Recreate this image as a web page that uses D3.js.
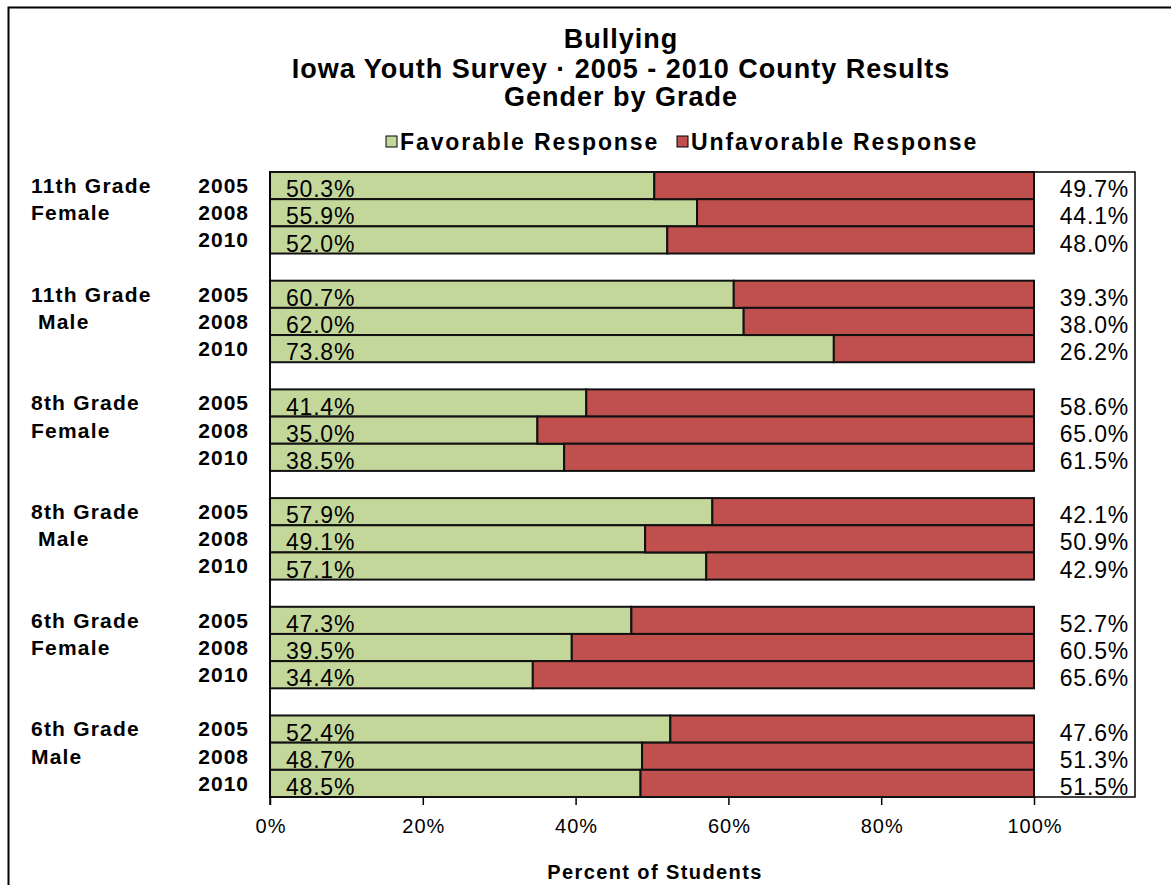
<!DOCTYPE html>
<html>
<head>
<meta charset="utf-8">
<script src="https://cdn.jsdelivr.net/npm/d3@7"></script>
<style>
  body { margin: 0; background: #fff; }
  svg text { font-family: Arial, "Liberation Sans", sans-serif; }
</style>
</head>
<body>
<div id="chart"></div>
<script>
// chart data
var titleLines = ['Bullying', 'Iowa Youth Survey \u00b7 2005 - 2010 County Results', 'Gender by Grade'];
var seriesNames = ['Favorable Response', 'Unfavorable Response'];
var groupLabels = [
    ['11th Grade', 'Female'],
    ['11th Grade', ' Male'],
    ['8th Grade', 'Female'],
    ['8th Grade', ' Male'],
    ['6th Grade', 'Female'],
    ['6th Grade', 'Male']
];
var years = ['2005', '2008', '2010'];
var favorable = [
    [50.3, 55.9, 52.0],
    [60.7, 62.0, 73.8],
    [41.4, 35.0, 38.5],
    [57.9, 49.1, 57.1],
    [47.3, 39.5, 34.4],
    [52.4, 48.7, 48.5]
];
var unfavorable = [
    [49.7, 44.1, 48.0],
    [39.3, 38.0, 26.2],
    [58.6, 65.0, 61.5],
    [42.1, 50.9, 42.9],
    [52.7, 60.5, 65.6],
    [47.6, 51.3, 51.5]
];
var xTicks = [0, 20, 40, 60, 80, 100];
var xTitle = 'Percent of Students';

function drawChart() {
    var width = 1171, height = 885;
    var colors = ['#c4d79b', '#c0504d'];

    var plot = { left: 270, right: 1135, top: 172, bottom: 797 };

    var svg = d3.select('#chart').append('svg')
        .attr('width', width)
        .attr('height', height);

    // outer chart border (runs off the right and bottom edges)
    svg.append('rect')
        .attr('x', 8.5).attr('y', 7.5)
        .attr('width', 1200).attr('height', 950)
        .attr('fill', '#fff')
        .attr('stroke', '#000')
        .attr('stroke-width', 2);

    // rows: 3 bars per group, blank row between groups
    var rows = [];
    groupLabels.forEach(function(g, gi) {
        years.forEach(function(yr, yi) {
            rows.push({ key: gi + '-' + yr, group: gi, yi: yi, year: yr,
                fav: favorable[gi][yi], unf: unfavorable[gi][yi] });
        });
        if (gi < groupLabels.length - 1) rows.push({ key: 'gap' + gi, gap: true });
    });

    var y = d3.scaleBand()
        .domain(rows.map(function(d) { return d.key; }))
        .range([plot.top, plot.bottom])
        .paddingInner(0).paddingOuter(0);

    var x = d3.scaleLinear()
        .domain([0, 100])
        .range([plot.left, 1034]);

    // plot area
    svg.append('rect')
        .attr('x', plot.left).attr('y', plot.top)
        .attr('width', plot.right - plot.left)
        .attr('height', plot.bottom - plot.top)
        .attr('fill', '#fff')
        .attr('stroke', '#000')
        .attr('stroke-width', 1.5);

    var bars = rows.filter(function(d) { return !d.gap; });

    svg.append('g').selectAll('rect.fav').data(bars).enter()
        .append('rect')
        .attr('class', 'fav')
        .attr('x', x(0))
        .attr('y', function(d) { return y(d.key); })
        .attr('width', function(d) { return x(d.fav) - x(0); })
        .attr('height', y.bandwidth())
        .attr('fill', colors[0])
        .attr('stroke', '#111')
        .attr('stroke-width', 2);

    svg.append('g').selectAll('rect.unf').data(bars).enter()
        .append('rect')
        .attr('class', 'unf')
        .attr('x', function(d) { return x(d.fav); })
        .attr('y', function(d) { return y(d.key); })
        .attr('width', function(d) { return x(100) - x(d.fav); })
        .attr('height', y.bandwidth())
        .attr('fill', colors[1])
        .attr('stroke', '#111')
        .attr('stroke-width', 2);

    // value labels
    svg.append('g').selectAll('text').data(bars).enter()
        .append('text')
        .attr('x', 286)
        .attr('y', function(d) { return y(d.key) + y.bandwidth() - 2; })
        .style('font-size', '23px')
        .style('letter-spacing', '0.8px')
        .text(function(d) { return d.fav.toFixed(1) + '%'; });

    svg.append('g').selectAll('text').data(bars).enter()
        .append('text')
        .attr('x', 1129)
        .attr('y', function(d) { return y(d.key) + y.bandwidth() - 2; })
        .attr('text-anchor', 'end')
        .style('font-size', '23px')
        .style('letter-spacing', '0.8px')
        .text(function(d) { return d.unf.toFixed(1) + '%'; });

    // year labels
    svg.append('g').selectAll('text').data(bars).enter()
        .append('text')
        .attr('x', 249)
        .attr('y', function(d) { return y(d.key) + 21; })
        .attr('text-anchor', 'end')
        .style('font-size', '21px')
        .style('font-weight', 'bold')
        .style('letter-spacing', '1px')
        .text(function(d) { return d.year; });

    // group labels
    groupLabels.forEach(function(lines, gi) {
        var top = y(gi + '-' + years[0]);
        lines.forEach(function(t, li) {
            svg.append('text')
                .attr('x', 31)
                .attr('y', top + 21 + li * y.bandwidth())
                .attr('xml:space', 'preserve')
                .style('white-space', 'pre')
                .style('font-size', '21px')
                .style('font-weight', 'bold')
                .style('letter-spacing', '1.2px')
                .text(t);
        });
    });

    // x axis
    var axis = svg.append('g')
        .attr('transform', 'translate(0,' + plot.bottom + ')')
        .call(d3.axisBottom(x).tickValues(xTicks)
            .tickFormat(function(d) { return d + '%'; })
            .tickSize(8).tickPadding(14));
    axis.select('.domain').remove();
    axis.selectAll('line').attr('stroke', '#000').attr('stroke-width', 1.5);
    axis.selectAll('text')
        .attr('dx', 0.5)
        .style('font-size', '20px')
        .style('letter-spacing', '1px')
        .style('font-family', 'Arial, "Liberation Sans", sans-serif')
        .attr('fill', '#000');

    svg.append('line')
        .attr('x1', plot.left).attr('x2', plot.left)
        .attr('y1', plot.top).attr('y2', plot.bottom + 8)
        .attr('stroke', '#000').attr('stroke-width', 1.5);

    svg.append('text')
        .attr('x', 655).attr('y', 879)
        .attr('text-anchor', 'middle')
        .style('font-size', '20px')
        .style('font-weight', 'bold')
        .style('letter-spacing', '1.4px')
        .text(xTitle);

    // title
    var titleY = [48, 78, 106];
    titleLines.forEach(function(t, i) {
        svg.append('text')
            .attr('x', 621).attr('y', titleY[i])
            .attr('text-anchor', 'middle')
            .style('font-size', '27px')
            .style('font-weight', 'bold')
            .style('letter-spacing', '1px')
            .text(t);
    });

    // legend
    var legendX = [386, 677];
    var legendText = svg.append('g');
    seriesNames.forEach(function(name, i) {
        legendText.append('rect')
            .attr('x', legendX[i]).attr('y', 136)
            .attr('width', 11).attr('height', 11)
            .attr('fill', colors[i])
            .attr('stroke', '#000').attr('stroke-width', 1);
        legendText.append('text')
            .attr('x', legendX[i] + 14).attr('y', 150)
            .style('font-size', '23px')
            .style('font-weight', 'bold')
            .style('letter-spacing', '1.9px')
            .text(name);
    });
}

drawChart();
</script>
</body>
</html>
